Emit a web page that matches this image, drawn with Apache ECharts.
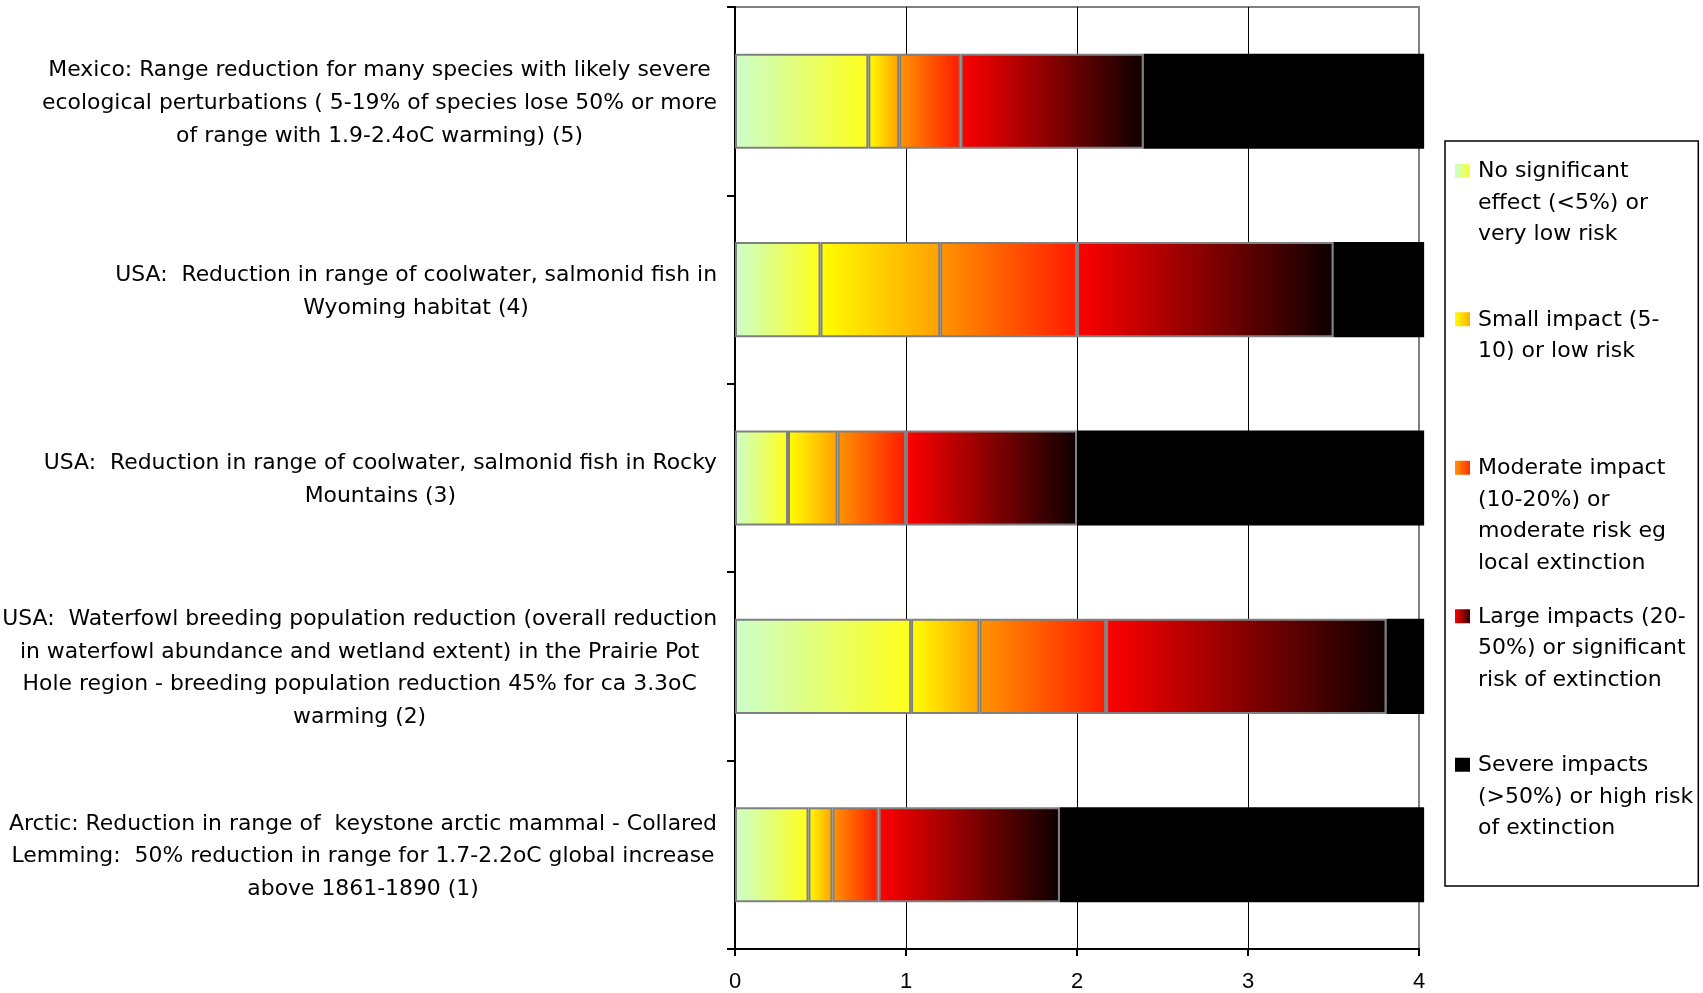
<!DOCTYPE html>
<html>
<head>
<meta charset="utf-8">
<script src="https://cdn.jsdelivr.net/npm/echarts@6/dist/echarts.min.js"></script>
<style>
  html, body { margin: 0; padding: 0; background: #fff; }
  #chart { width: 1703px; height: 993px; }
</style>
</head>
<body>
<div id="chart"></div>
<script>
// ---- Data (top to bottom) ----
const categories = [
  "Mexico: Range reduction for many species with likely severe\necological perturbations ( 5-19% of species lose 50% or more\nof range with 1.9-2.4oC warming) (5)",
  "USA:  Reduction in range of coolwater, salmonid fish in\nWyoming habitat (4)",
  "USA:  Reduction in range of coolwater, salmonid fish in Rocky\nMountains (3)",
  "USA:  Waterfowl breeding population reduction (overall reduction\nin waterfowl abundance and wetland extent) in the Prairie Pot\nHole region - breeding population reduction 45% for ca 3.3oC\nwarming (2)",
  "Arctic: Reduction in range of  keystone arctic mammal - Collared\nLemming:  50% reduction in range for 1.7-2.2oC global increase\nabove 1861-1890 (1)"
];
const noSignificant  = [0.78, 0.50, 0.31, 1.03, 0.43];
const smallImpact    = [0.18, 0.70, 0.29, 0.40, 0.14];
const moderateImpact = [0.36, 0.80, 0.40, 0.74, 0.27];
const largeImpact    = [1.07, 1.50, 1.00, 1.64, 1.06];
const severeImpact   = [1.64, 0.53, 2.03, 0.22, 2.13];
const seriesNames = [
  "No significant\neffect (<5%) or\nvery low risk",
  "Small impact (5-\n10) or low risk",
  "Moderate impact\n(10-20%) or\nmoderate risk eg\nlocal extinction",
  "Large impacts (20-\n50%) or significant\nrisk of extinction",
  "Severe impacts\n(>50%) or high risk\nof extinction"
];
const xTicks = [0, 1, 2, 3, 4];

// ---- Styles ----
const LG = echarts.graphic.LinearGradient;
const fills = [
  new LG(0, 0, 1, 0, [{offset: 0, color: '#ccffcc'}, {offset: 1, color: '#ffff1a'}]),
  new LG(0, 0, 1, 0, [{offset: 0, color: '#ffff00'}, {offset: 1, color: '#ffa000'}]),
  new LG(0, 0, 1, 0, [{offset: 0, color: '#ff9500'}, {offset: 1, color: '#ff1a00'}]),
  new LG(0, 0, 1, 0, [{offset: 0, color: '#ff0000'}, {offset: 1, color: '#0d0000'}]),
  '#000000'
];
const seriesData = [noSignificant, smallImpact, moderateImpact, largeImpact, severeImpact];
const LEG_LINES = 4, LEG_LH = 31.5;
const legendIcon = 'path://M0,0 M0,8 L15,8 L15,22 L0,22 Z M18,0 M18,' + (LEG_LINES * LEG_LH);

const chart = echarts.init(document.getElementById('chart'), null, {renderer: 'canvas'});
chart.setOption({
  backgroundColor: '#ffffff',
  animation: false,
  grid: {
    left: 735, right: 284, top: 7, bottom: 44,
    show: true, borderColor: '#808080', borderWidth: 2,
    backgroundColor: 'transparent',
    outerBoundsMode: 'none'
  },
  legend: {
    orient: 'vertical',
    left: 1445, top: 141,
    padding: [14.7, 5, 10.3, 10],
    itemGap: 22.5,
    itemWidth: 18,
    itemHeight: LEG_LINES * LEG_LH,
    borderColor: '#000', borderWidth: 1.5,
    backgroundColor: '#fff',
    selectedMode: false,
    itemStyle: {borderWidth: 0},
    textStyle: {
      fontFamily: 'DejaVu Sans', fontSize: 22, color: '#000',
      lineHeight: LEG_LH, width: 215, overflow: 'none'
    },
    formatter: function (name) {
      const lines = name.split('\n');
      while (lines.length < LEG_LINES) lines.push('');
      return lines.join('\n');
    },
    data: seriesNames.map(n => ({name: n, icon: legendIcon}))
  },
  xAxis: {
    type: 'value', min: xTicks[0], max: xTicks[xTicks.length - 1], interval: 1,
    axisLine: {show: true, lineStyle: {color: '#000', width: 2}},
    axisTick: {show: true, length: 7, lineStyle: {color: '#000', width: 2}},
    axisLabel: {
      margin: 22, color: '#000', fontFamily: 'Liberation Sans', fontSize: 22,
      formatter: v => String(v)
    },
    splitLine: {show: true, lineStyle: {color: ['#000', '#000', '#000', '#000', '#808080'], width: 1}}
  },
  yAxis: {
    type: 'category', data: categories, inverse: true,
    axisLine: {show: true, lineStyle: {color: '#000', width: 2}},
    axisTick: {show: true, length: 8, lineStyle: {color: '#000', width: 2}},
    splitLine: {show: false},
    axisLabel: {
      interval: 0, margin: 18, align: 'right',
      padding: [4, 0, 0, 0],
      formatter: function (v) {
        return v.split('\n').map(l => '{c|' + l + '}').join('\n');
      },
      rich: {
        c: {align: 'center', fontFamily: 'DejaVu Sans', fontSize: 21.9, lineHeight: 32.7, color: '#000'}
      }
    }
  },
  series: seriesNames.map((name, i) => ({
    name: name,
    type: 'bar',
    stack: 'impact',
    barWidth: '50.5%',
    clip: false,
    data: seriesData[i],
    itemStyle: {
      color: fills[i],
      borderColor: i < 4 ? '#808080' : '#000000',
      borderWidth: i < 4 ? 2 : 0
    },
    emphasis: {disabled: true}
  }))
});
</script>
</body>
</html>
